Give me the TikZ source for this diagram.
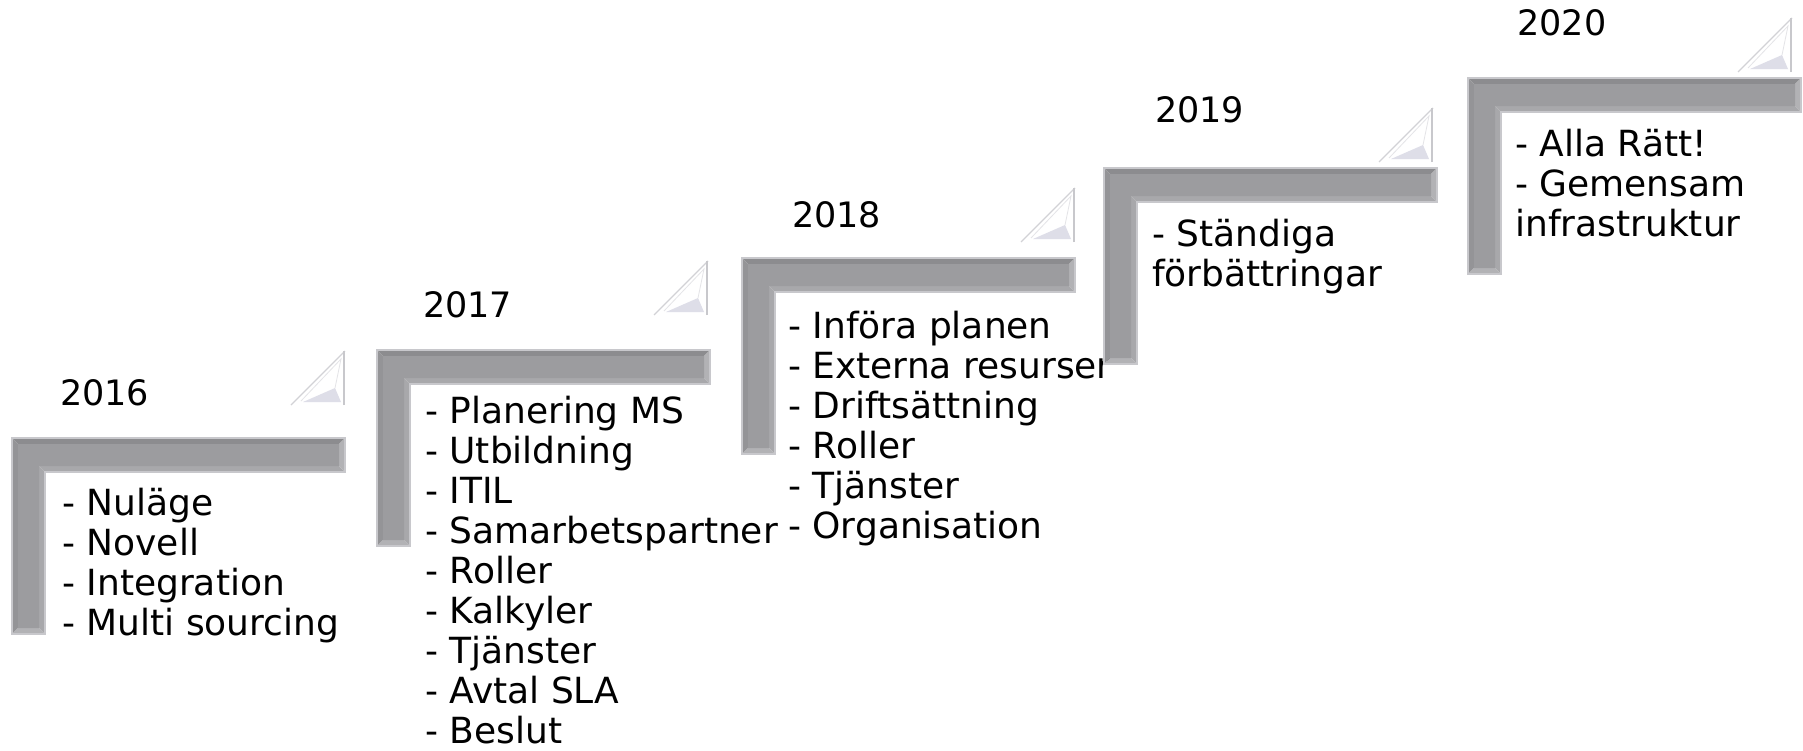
\documentclass[tikz,border=0pt]{standalone}
\usepackage{fontspec}
\setmainfont{DejaVu Sans}
\usetikzlibrary{positioning}

\definecolor{barouter}{HTML}{8C8C8F}
\definecolor{barside}{HTML}{949497}
\definecolor{barmid}{HTML}{9C9C9F}
\definecolor{barinner}{HTML}{A8A8AB}
\definecolor{barcap}{HTML}{B2B2B5}
\definecolor{baredge}{HTML}{C8C8CC}
\definecolor{curledge}{HTML}{D2D2D6}
\definecolor{curlfold}{HTML}{DEDEE8}

\tikzset{
  year/.style={anchor=base west, inner sep=0pt, font=\fontsize{35}{40}\selectfont},
  % anchored at the baseline of the last line
  items/.style={anchor=base west, inner sep=0pt, align=left, font=\fontsize{36}{40}\selectfont},
  stair/.pic={
    % bevelled L bar
    \fill[barouter] (0,0) -- (333,0) -- (327,6) -- (6,6) -- cycle;
    \fill[barside] (0,0) -- (6,6) -- (6,190) -- (0,196) -- cycle;
    \fill[barinner] (27,28) -- (327,28) -- (333,34) -- (33,34) -- cycle;
    \fill[barinner] (27,28) -- (33,34) -- (33,196) -- (27,190) -- cycle;
    \fill[barcap] (327,6) -- (333,0) -- (333,34) -- (327,28) -- cycle;
    \fill[barcap] (6,190) -- (27,190) -- (33,196) -- (0,196) -- cycle;
    \fill[barmid] (6,6) -- (327,6) -- (327,28) -- (27,28) -- (27,190) -- (6,190) -- cycle;
    \draw[baredge, line width=1.2] (0,0) -- (333,0) -- (333,34) -- (33,34) -- (33,196) -- (0,196) -- cycle;
  },
  curl/.pic={
    % folded corner
    \fill[white] (0,0) -- (-54,0) -- (0,-54) -- cycle;
    \draw[curledge, line width=1.2] (-54,0) -- (0,-54);
    \draw[baredge, line width=2.5] (-1,0) -- (-1,-54);
    \fill[curlfold] (-42,-3) -- (-10,-17) -- (-4,-3) -- cycle;
    \draw[curledge!60, line width=0.8] (-44,-4) -- (-4,-46) -- (-10,-17);
  }
}

\begin{document}
\begin{tikzpicture}[x=1pt, y=-1pt]
  \useasboundingbox (0,0) rectangle (1803,750);

  \pic (s16) at (12,438) {stair};
  \pic (c16) at (345,405) {curl};
  \node[year] (y16) at (60,405) {2016};
  \node[items] (t16) at (62,635) {- Nuläge\\- Novell\\- Integration\\- Multi sourcing};

  \pic (s17) at (377,350) {stair};
  \pic (c17) at (708,315) {curl};
  \node[year] (y17) at (423,317) {2017};
  \node[items] (t17) at (425,743) {- Planering MS\\- Utbildning\\- ITIL\\- Samarbetspartner\\- Roller\\- Kalkyler\\- Tjänster\\- Avtal SLA\\- Beslut};

  \pic (s18) at (742,258) {stair};
  \pic (c18) at (1075,242) {curl};
  \node[year] (y18) at (792,227) {2018};
  \node[items] (t18) at (788,538) {- Införa planen\\- Externa resurser\\- Driftsättning\\- Roller\\- Tjänster\\- Organisation};

  \pic (s19) at (1104,168) {stair};
  \pic (c19) at (1433,162) {curl};
  \node[year] (y19) at (1155,122) {2019};
  \node[items] (t19) at (1152,286) {- Ständiga\\förbättringar};

  \pic (s20) at (1468,78) {stair};
  \pic (c20) at (1792,72) {curl};
  \node[year] (y20) at (1517,35) {2020};
  \node[items] (t20) at (1515,236) {- Alla Rätt!\\- Gemensam\\infrastruktur};
\end{tikzpicture}
\end{document}
